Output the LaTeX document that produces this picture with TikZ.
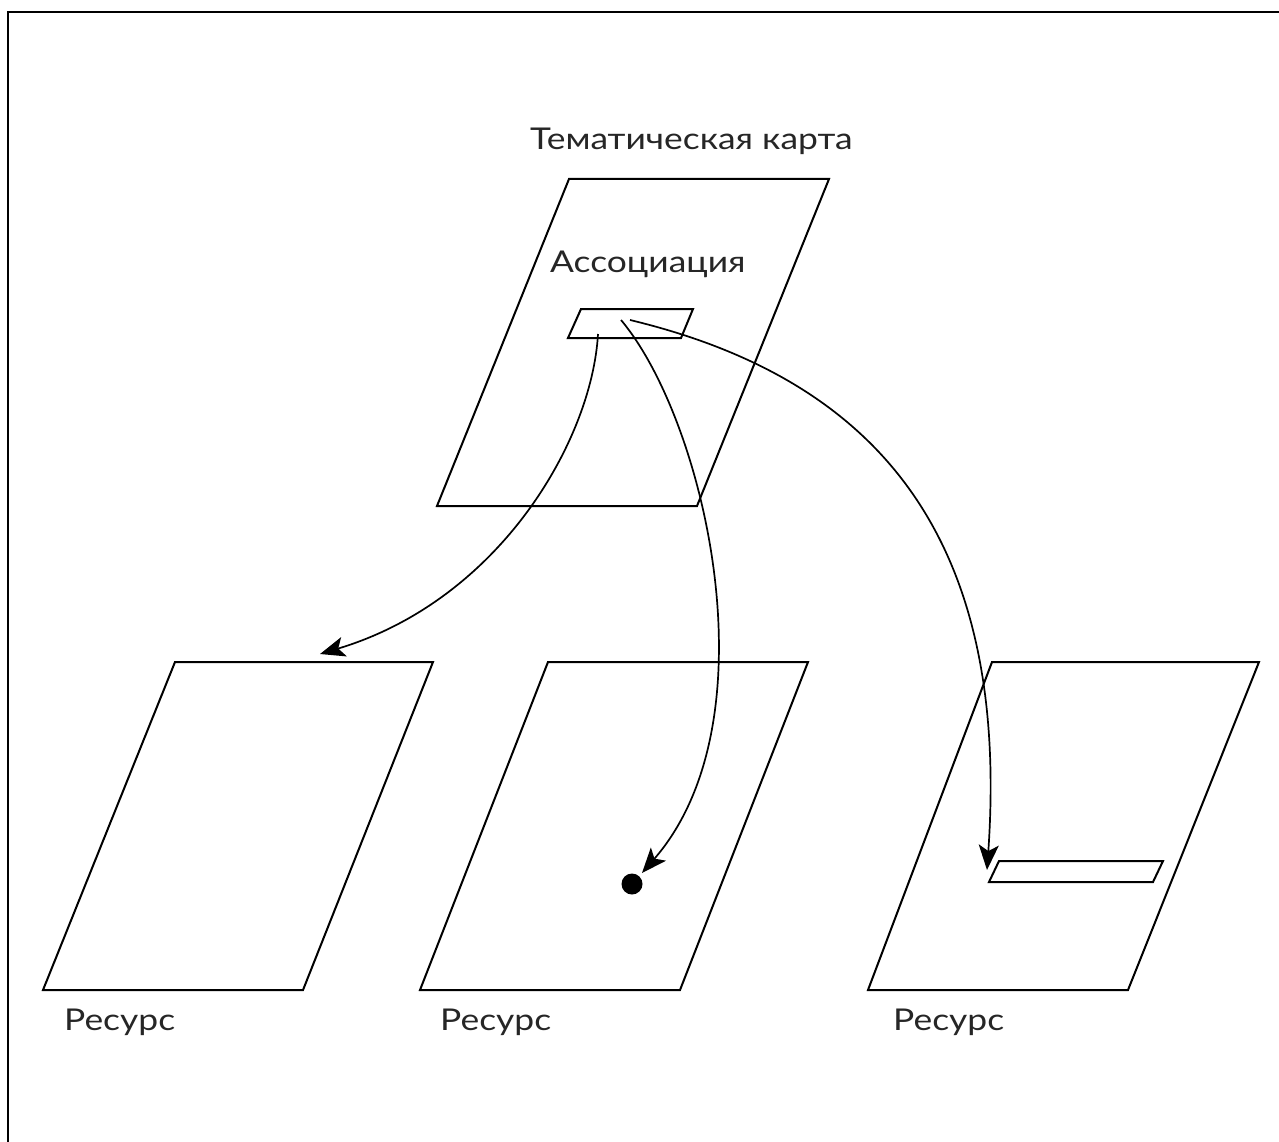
\documentclass[tikz,border=0pt]{standalone}
\usepackage{fontspec}
\setmainfont{Lato}[FakeStretch=1.18]
\usetikzlibrary{arrows.meta}
\begin{document}
\begin{tikzpicture}[x=1pt,y=-1pt,
  sheet/.style={draw=black,line width=2pt,line join=miter},
  conn/.style={draw=black,line width=1.7pt,-{Stealth[length=25pt,width=20pt,inset=6pt]}},
  lbl/.style={anchor=base west,inner sep=0pt,font=\fontsize{30}{34}\selectfont,text=black!85}]
\useasboundingbox (0,0) rectangle (1279,1142);
\draw[line width=2.6pt] (8,1160) -- (8,12) -- (1300,12);
% top sheet
\draw[sheet] (569,179) -- (829,179) -- (697,506) -- (437,506) -- cycle;
\draw[sheet] (581,309) -- (693,309) -- (681,338) -- (568,338) -- cycle;
% bottom sheets
\draw[sheet] (175,662) -- (433,662) -- (303,990) -- (43,990) -- cycle;
\draw[sheet] (548,662) -- (808,662) -- (680,990) -- (420,990) -- cycle;
\draw[sheet] (992,662) -- (1259,662) -- (1128,990) -- (868,990) -- cycle;
\draw[sheet] (999,861) -- (1163,861) -- (1153,882) -- (989,882) -- cycle;
\fill (632,884) circle (10.5);
% labels
\node[lbl] (tm) at (530,150) {Тематическая карта};
\node[lbl] (as) at (550,272) {Ассоциация};
\node[lbl] (r1) at (64,1030) {Ресурс};
\node[lbl] (r2) at (440,1030) {Ресурс};
\node[lbl] (r3) at (893,1030) {Ресурс};
% connector endpoints
\coordinate (s1) at (598,334);
\coordinate (e1) at (320,654);
\coordinate (s2) at (621,320);
\coordinate (e2) at (642,873);
\coordinate (s3) at (630,320);
\coordinate (e3) at (987,870);
\draw[conn] (s1) .. controls (592,440) and (500,600) .. (e1);
\draw[conn] (s2) .. controls (705,420) and (775,720) .. (e2);
\draw[conn] (s3) .. controls (880,380) and (1010,540) .. (e3);
\end{tikzpicture}
\end{document}
